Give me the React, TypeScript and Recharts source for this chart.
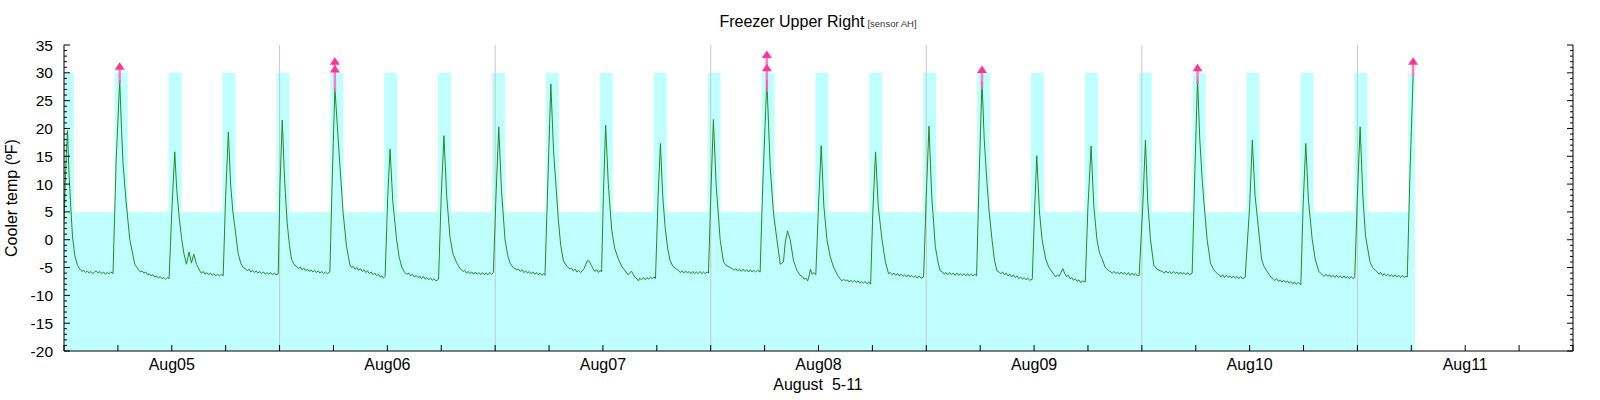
import { ComposedChart, Line, XAxis, YAxis, ReferenceArea, ReferenceLine, Scatter } from "recharts";

// hours counted from Aug05 00:00, temperature in ºF
const aug04 = [
    [-12, 3.5], [-11.75, 15], [-11.6, 19.6], [-11.45, 12], [-11.25, 6], [-11.05, 0.5], [-10.8, -2.8], [-10.5, -4.6],
    [-10.2, -5.4], [-10.0, -5.7], [-9.8, -5.5], [-9.6, -5.9], [-9.4, -5.6], [-9.2, -6.0], [-9.0, -5.7], [-8.8, -6.1],
    [-8.6, -5.8], [-8.4, -5.6], [-8.2, -6.0], [-8.0, -5.7], [-7.8, -6.1], [-7.6, -5.8], [-7.4, -6.2], [-7.2, -5.9],
    [-7.0, -6.1], [-6.8, -5.8], [-6.54, -6.1],
    [-6.2, 14], [-5.8, 28.7], [-5.6, 20], [-5.43, 13.7], [-5.1, 7.1], [-4.68, 0.1], [-4.12, -4.4],
    [-3.7, -5.4], [-3.5, -5.8], [-3.3, -5.6], [-3.1, -6.0], [-2.9, -5.8], [-2.7, -6.3], [-2.5, -6.1], [-2.3, -6.5],
    [-2.1, -6.3], [-1.9, -6.7], [-1.7, -6.5], [-1.5, -6.9], [-1.3, -6.6], [-1.1, -7.0], [-0.9, -6.8], [-0.7, -7.1],
    [-0.5, -6.8], [-0.3, -7.0],
];
const aug05 = [
    [0.0, 5], [0.33, 15.8], [0.55, 9], [0.82, 4.1], [1.08, 0.4], [1.35, -2.5], [1.63, -4.4], [1.93, -2.2],
    [2.19, -4.2], [2.45, -2.6], [2.75, -4.4], [3.12, -5.6],
    [3.3, -6.0], [3.5, -5.7], [3.7, -6.2], [3.9, -5.9], [4.1, -6.3], [4.3, -6.0], [4.5, -6.4], [4.7, -6.1],
    [4.9, -6.5], [5.1, -6.2], [5.3, -6.5], [5.5, -6.2], [5.72, -6.5],
    [6.0, 8], [6.3, 19.4], [6.55, 10], [6.8, 5], [7.02, 2.35], [7.39, -2.5], [7.7, -4.3], [7.95, -5.0],
    [8.2, -5.2], [8.4, -5.6], [8.6, -5.3], [8.8, -5.8], [9.0, -5.5], [9.2, -5.9], [9.4, -5.6], [9.6, -6.0],
    [9.8, -5.7], [10.0, -6.1], [10.2, -5.8], [10.4, -6.2], [10.6, -5.9], [10.8, -6.2], [11.0, -5.9], [11.2, -6.3],
    [11.4, -6.0], [11.6, -6.3], [11.85, -6.1],
    [12.05, 10], [12.3, 21.5], [12.55, 11], [12.85, 2.95], [13.1, -1.0], [13.33, -3.5], [13.6, -4.4], [13.9, -4.8],
    [14.1, -5.2], [14.3, -4.9], [14.5, -5.4], [14.7, -5.1], [14.9, -5.6], [15.1, -5.3], [15.3, -5.7], [15.5, -5.4],
    [15.7, -5.8], [15.9, -5.5], [16.1, -5.9], [16.3, -5.6], [16.5, -6.0], [16.7, -5.7], [16.9, -6.1], [17.1, -5.8],
    [17.3, -6.1], [17.6, -5.8],
    [17.85, 10], [18.16, 27.3], [18.53, 17.9], [19.08, 4.7], [19.46, -1.25], [19.83, -4.5],
    [20.0, -5.0], [20.2, -4.8], [20.4, -5.3], [20.6, -5.0], [20.8, -5.5], [21.0, -5.2], [21.2, -5.7], [21.4, -5.4],
    [21.6, -5.9], [21.8, -5.6], [22.0, -6.1], [22.2, -5.8], [22.4, -6.3], [22.6, -6.0], [22.8, -6.5], [23.0, -6.2],
    [23.2, -6.7], [23.4, -6.5], [23.55, -6.9], [23.75, -6.6],
];
const aug06 = [
    [24.05, 8], [24.3, 16.3], [24.6, 7], [25.03, 0], [25.3, -3.0], [25.6, -4.9], [25.9, -5.8], [26.15, -6.2],
    [26.4, -6.0], [26.6, -6.5], [26.8, -6.2], [27.0, -6.7], [27.2, -6.4], [27.4, -6.8], [27.6, -6.5], [27.8, -7.0],
    [28.0, -6.6], [28.2, -7.1], [28.4, -6.8], [28.6, -7.2], [28.8, -6.9], [29.0, -7.3], [29.2, -7.0], [29.4, -7.4],
    [29.7, -7.1],
    [30.0, 8], [30.3, 18.7], [30.6, 8], [30.97, 0.5], [31.3, -2.5], [31.7, -4.1], [32.1, -5.2], [32.45, -5.7],
    [32.6, -5.5], [32.8, -6.0], [33.0, -5.7], [33.2, -6.1], [33.4, -5.8], [33.6, -6.2], [33.8, -5.8], [34.0, -6.2],
    [34.2, -5.9], [34.4, -6.3], [34.6, -5.9], [34.8, -6.3], [35.0, -6.0], [35.2, -6.3], [35.4, -5.9], [35.6, -6.2],
    [35.8, -5.9],
    [36.1, 8], [36.4, 20.3], [36.7, 9], [37.1, 0], [37.4, -2.8], [37.66, -4.2], [38.0, -5.0], [38.4, -5.4],
    [38.6, -5.3], [38.8, -5.7], [39.0, -5.4], [39.2, -5.9], [39.4, -5.6], [39.6, -6.0], [39.8, -5.7], [40.0, -6.1],
    [40.2, -5.8], [40.4, -6.2], [40.6, -5.9], [40.8, -6.3], [41.0, -6.0], [41.2, -6.4], [41.4, -6.1], [41.55, -6.4],
    [41.9, 12], [42.2, 28.0], [42.5, 16], [43.04, 3.5], [43.3, -1.0], [43.6, -3.8], [44.0, -4.8], [44.34, -5.3],
    [44.5, -5.1], [44.7, -5.6], [44.9, -5.3], [45.1, -5.8], [45.3, -5.5], [45.5, -5.9], [45.7, -5.6], [45.9, -5.2],
    [46.1, -4.4], [46.3, -3.7], [46.5, -3.9], [46.7, -4.6], [46.9, -5.2], [47.1, -5.7], [47.3, -5.4], [47.5, -5.9],
    [47.7, -5.5], [47.85, -5.8],
];
const aug07 = [
    [48.05, 8], [48.3, 20.6], [48.6, 10], [48.98, 1.75], [49.3, -1.5], [49.73, -3.5], [50.1, -4.8], [50.47, -5.6],
    [50.8, -6.3], [51.0, -5.9], [51.2, -5.7], [51.4, -6.3], [51.6, -6.8], [51.8, -7.0], [51.95, -7.4],
    [52.1, -6.9], [52.3, -7.2], [52.5, -6.8], [52.7, -7.2], [52.9, -6.8], [53.1, -7.1], [53.3, -6.7], [53.5, -7.0],
    [53.7, -6.7], [53.85, -7.0],
    [54.15, 8], [54.4, 17.3], [54.65, 8], [54.92, 2.35], [55.2, -1.5], [55.48, -3.8], [55.8, -4.8], [56.2, -5.3],
    [56.4, -5.5], [56.6, -5.9], [56.8, -5.6], [57.0, -6.0], [57.2, -5.6], [57.4, -6.0], [57.6, -5.7], [57.8, -6.1],
    [58.0, -5.7], [58.2, -6.1], [58.4, -5.8], [58.6, -6.1], [58.8, -5.7], [59.0, -6.1], [59.2, -5.8], [59.4, -6.1],
    [59.6, -5.8], [59.75, -6.0],
    [60.05, 10], [60.3, 21.6], [60.6, 10], [61.05, 0], [61.42, -4.0], [61.8, -4.7], [62.17, -5.0],
    [62.4, -5.2], [62.6, -5.5], [62.8, -5.2], [63.0, -5.6], [63.2, -5.3], [63.4, -5.7], [63.6, -5.3], [63.8, -5.7],
    [64.0, -5.4], [64.2, -5.8], [64.4, -5.4], [64.6, -5.8], [64.8, -5.5], [65.0, -5.8], [65.2, -5.5], [65.5, -5.8],
    [65.8, 10], [66.25, 28.7], [66.62, 13.1], [66.99, 4.8], [67.37, 0], [67.74, -4.4], [68.1, -4.0], [68.29, -0.6],
    [68.55, 1.6], [68.85, 0], [69.22, -3.8], [69.6, -5.5], [69.96, -6.4], [70.2, -6.6], [70.4, -7.1], [70.6, -6.9],
    [70.8, -7.4], [71.0, -6.2], [71.1, -5.3], [71.3, -6.2], [71.5, -5.9], [71.7, -6.3],
];
const aug08 = [
    [72.0, 6], [72.3, 16.9], [72.6, 6], [72.94, 0], [73.3, -3.0], [73.67, -4.9], [74.1, -6.3], [74.4, -7.0],
    [74.6, -7.4], [74.8, -7.1], [75.0, -7.4], [75.2, -7.2], [75.4, -7.6], [75.6, -7.3], [75.8, -7.6], [76.0, -7.3],
    [76.2, -7.7], [76.4, -7.4], [76.6, -7.8], [76.8, -7.5], [77.0, -7.8], [77.2, -7.5], [77.4, -7.9], [77.6, -7.6],
    [77.8, -8.0],
    [78.05, 5], [78.35, 15.8], [78.65, 6], [79.07, 0], [79.45, -4.0], [79.8, -6.1],
    [80.0, -5.9], [80.2, -6.3], [80.4, -6.0], [80.6, -6.4], [80.8, -6.1], [81.0, -6.5], [81.2, -6.2], [81.4, -6.6],
    [81.6, -6.3], [81.8, -6.7], [82.0, -6.3], [82.2, -6.7], [82.4, -6.4], [82.6, -6.8], [82.8, -6.5], [83.0, -6.9],
    [83.2, -6.5], [83.4, -6.9], [83.7, -6.7],
    [84.0, 8], [84.3, 20.4], [84.6, 8], [85.0, -1.2], [85.3, -4.0], [85.56, -5.6],
    [85.8, -5.8], [86.0, -6.2], [86.2, -5.9], [86.4, -6.3], [86.6, -5.9], [86.8, -6.3], [87.0, -6.0], [87.2, -6.4],
    [87.4, -6.0], [87.6, -6.4], [87.8, -6.1], [88.0, -6.4], [88.2, -6.1], [88.4, -6.5], [88.6, -6.1], [88.8, -6.5],
    [89.0, -6.2], [89.2, -6.5], [89.4, -6.2], [89.6, -6.5],
    [89.9, 12], [90.2, 28.5], [90.45, 18], [90.76, 10.1], [91.0, 5], [91.32, 0], [91.6, -3.8], [91.88, -5.6],
    [92.1, -5.8], [92.3, -6.1], [92.5, -5.8], [92.7, -6.3], [92.9, -6.0], [93.1, -6.5], [93.3, -6.2], [93.5, -6.7],
    [93.7, -6.3], [93.9, -6.8], [94.1, -6.5], [94.3, -7.0], [94.5, -6.7], [94.7, -7.1], [94.9, -6.8], [95.1, -7.2],
    [95.3, -6.9], [95.5, -7.3], [95.8, -7.1],
];
const aug09 = [
    [96.05, 5], [96.3, 15.1], [96.6, 5], [96.89, 0], [97.3, -3.5], [97.63, -4.9], [98.0, -5.8], [98.2, -6.2],
    [98.4, -6.7], [98.6, -6.3], [98.8, -6.6], [99.0, -5.9], [99.2, -5.2], [99.4, -6.0], [99.6, -6.6], [99.8, -6.4],
    [100.0, -7.0], [100.2, -6.8], [100.4, -7.3], [100.6, -7.0], [100.8, -7.5], [101.0, -7.2], [101.2, -7.7],
    [101.4, -7.4], [101.7, -7.6],
    [102.0, 6], [102.35, 16.85], [102.65, 6], [103.0, 0], [103.3, -2.5], [103.57, -3.4], [103.9, -4.9], [104.3, -5.6],
    [104.5, -5.7], [104.7, -6.0], [104.9, -5.7], [105.1, -6.1], [105.3, -5.8], [105.5, -6.2], [105.7, -5.8],
    [105.9, -6.2], [106.1, -5.9], [106.3, -6.3], [106.5, -5.9], [106.7, -6.4], [106.9, -6.0], [107.1, -6.4],
    [107.3, -6.1], [107.5, -6.5], [107.7, -6.4],
    [108.1, 6], [108.4, 17.9], [108.65, 7], [108.96, 0], [109.33, -4.6], [109.7, -5.3], [110.07, -5.6],
    [110.3, -5.7], [110.5, -6.0], [110.7, -5.6], [110.9, -6.0], [111.1, -5.7], [111.3, -6.1], [111.5, -5.7],
    [111.7, -6.1], [111.9, -5.8], [112.1, -6.2], [112.3, -5.8], [112.5, -6.2], [112.7, -5.9], [112.9, -6.3],
    [113.1, -5.9], [113.3, -6.3], [113.6, -6.0],
    [113.9, 12], [114.2, 29.0], [114.45, 18], [114.72, 10.7], [115.0, 5], [115.27, 0], [115.64, -4.2], [116.0, -5.4],
    [116.4, -6.1], [116.6, -6.3], [116.8, -6.7], [117.0, -6.3], [117.2, -6.8], [117.4, -6.4], [117.6, -6.8],
    [117.8, -6.5], [118.0, -6.9], [118.2, -6.5], [118.4, -6.9], [118.6, -6.6], [118.8, -7.0], [119.0, -6.6],
    [119.2, -7.0], [119.5, -6.8],
];
const aug10 = [
    [120.0, 6], [120.3, 17.9], [120.6, 8], [120.96, 2.35], [121.33, -3.5], [121.6, -4.8], [121.9, -5.6],
    [122.2, -6.3], [122.4, -6.8], [122.6, -7.0], [122.8, -7.3], [123.0, -7.0], [123.2, -7.5], [123.4, -7.2],
    [123.6, -7.6], [123.8, -7.3], [124.0, -7.7], [124.2, -7.4], [124.4, -7.8], [124.6, -7.5], [124.8, -7.9],
    [125.0, -7.6], [125.2, -8.0], [125.4, -7.7], [125.7, -8.1],
    [125.95, 6], [126.25, 17.3], [126.55, 7], [126.97, 0], [127.3, -3.5], [127.7, -5.7], [127.9, -6.0],
    [128.1, -6.3], [128.3, -6.6], [128.5, -6.2], [128.7, -6.6], [128.9, -6.3], [129.1, -6.7], [129.3, -6.4],
    [129.5, -6.8], [129.7, -6.4], [129.9, -6.8], [130.1, -6.5], [130.3, -6.9], [130.5, -6.5], [130.7, -6.9],
    [130.9, -6.6], [131.1, -7.0], [131.3, -6.6], [131.5, -7.0], [131.7, -6.8],
    [132.0, 8], [132.3, 20.3], [132.6, 8], [132.9, 0.7], [133.4, -4.0], [133.7, -5.0], [134.0, -5.5],
    [134.2, -5.8], [134.4, -6.2], [134.6, -5.9], [134.8, -6.4], [135.0, -6.1], [135.2, -6.5], [135.4, -6.2],
    [135.6, -6.6], [135.8, -6.3], [136.0, -6.7], [136.2, -6.3], [136.4, -6.7], [136.6, -6.4], [136.8, -6.8],
    [137.0, -6.4], [137.2, -6.8], [137.4, -6.5], [137.55, -6.7],
    [137.85, 12], [138.2, 29.5],
];

// alarm readings: [hour, line starts at, arrow heads]
const alarms: [number, number, number[]][] = [
    [-5.8, 28.0, [31.1]],
    [18.16, 26.6, [30.6, 32.0]],
    [66.25, 26.6, [30.8, 33.2]],
    [90.2, 27.1, [30.5]],
    [114.2, 28.0, [30.8]],
    [138.2, 29.3, [32.0]],
];

// allowed range: -20..5 normally, up to 30 during the defrost windows
const coolStart = -12;
const coolEnd = 138.4;
const coolLow = -20;
const coolHigh = 5;
const defrostHigh = 30;
const defrostStarts = [
    -12, -6.35, -0.35, 5.65, 11.65, 17.65, 23.65, 29.65, 35.65, 41.65, 47.65, 53.65, 59.65,
    65.65, 71.65, 77.65, 83.65, 89.65, 95.65, 101.65, 107.65, 113.65, 119.65, 125.65, 131.65, 137.65,
];
const defrostEnds = [
    -10.9, -4.9, 1.1, 7.1, 13.1, 19.1, 25.1, 31.1, 37.1, 43.1, 49.1, 55.1, 61.1,
    67.1, 73.1, 79.1, 85.1, 91.1, 97.1, 103.1, 109.1, 115.1, 121.1, 127.1, 133.1, 138.4,
];

const noonLines = [12, 36, 60, 84, 108, 132];
const dayLabels = ["Aug05", "Aug06", "Aug07", "Aug08", "Aug09", "Aug10", "Aug11"];
const xTicks = [-12, -6, 0, 6, 12, 18, 24, 30, 36, 42, 48, 54, 60, 66, 72, 78, 84, 90, 96, 102, 108, 114, 120, 126, 132, 138, 144, 150, 156];
const yTicks = [
    -20, -19, -18, -17, -16, -15, -14, -13, -12, -11, -10, -9, -8, -7, -6, -5, -4, -3, -2, -1,
    0, 1, 2, 3, 4, 5, 6, 7, 8, 9, 10, 11, 12, 13, 14, 15, 16, 17, 18, 19, 20, 21, 22, 23, 24, 25,
    26, 27, 28, 29, 30, 31, 32, 33, 34, 35,
];

const temps = [...aug04, ...aug05, ...aug06, ...aug07, ...aug08, ...aug09, ...aug10].map(([t, v]) => ({ t, v }));
const arrowHeads = alarms.flatMap(([t, , heads]) => heads.map((v) => ({ t, v })));

const FONT = "'Liberation Sans', Arial, Helvetica, sans-serif";

const BottomTick = ({ x, y, payload }: any) => {
    const v = payload.value;
    const label = v % 24 === 0 ? dayLabels[v / 24] : null;
    return (
        <g>
            <line x1={x} x2={x} y1={y} y2={y - 6} stroke="#000" />
            {label && (
                <text x={x} y={y + 19} textAnchor="middle" fontSize={16} fontFamily={FONT} fill="#000">
                    {label}
                </text>
            )}
        </g>
    );
};

const TopTick = ({ x, y }: any) => <line x1={x} x2={x} y1={y} y2={y + 6} stroke="#000" />;

const LeftTick = ({ x, y, payload }: any) => {
    const v = payload.value;
    const major = v % 5 === 0;
    return (
        <g>
            <line x1={x} x2={x + (major ? 6 : 3)} y1={y} y2={y} stroke="#000" />
            {major && (
                <text x={x - 11} y={y} dy={5.5} textAnchor="end" fontSize={15.5} fontFamily={FONT} fill="#000">
                    {v}
                </text>
            )}
        </g>
    );
};

const RightTick = ({ x, y, payload }: any) => {
    const major = payload.value % 5 === 0;
    return <line x1={x} x2={x - (major ? 6 : 3)} y1={y} y2={y} stroke="#000" />;
};

const ArrowHead = ({ cx, cy }: any) => (
    <path d={`M${cx},${cy - 4.5} L${cx + 5},${cy + 3} L${cx - 5},${cy + 3} Z`} fill="#ff3399" />
);

export default function App() {
    return (
        <div style={{ position: "absolute", left: 0, top: 0, width: 1600, height: 400, background: "#fff" }}>
            <ComposedChart width={1600} height={400} data={temps} margin={{ top: 45, right: 0, bottom: 0, left: 0 }}>
                <XAxis
                    dataKey="t"
                    type="number"
                    domain={[-12, 156]}
                    ticks={xTicks}
                    interval={0}
                    allowDataOverflow
                    height={49}
                    tickSize={0}
                    tickMargin={0}
                    tickLine={false}
                    tick={BottomTick}
                    axisLine={{ stroke: "#000" }}
                />
                <XAxis
                    xAxisId="top"
                    orientation="top"
                    dataKey="t"
                    type="number"
                    domain={[-12, 156]}
                    ticks={xTicks}
                    interval={0}
                    allowDataOverflow
                    height={0}
                    tickSize={0}
                    tickMargin={0}
                    tickLine={false}
                    tick={TopTick}
                    axisLine={{ stroke: "#000" }}
                />
                <YAxis
                    type="number"
                    domain={[-20, 35]}
                    ticks={yTicks}
                    interval={0}
                    allowDataOverflow
                    width={64}
                    tickSize={0}
                    tickMargin={0}
                    tickLine={false}
                    tick={LeftTick}
                    axisLine={{ stroke: "#000" }}
                />
                <YAxis
                    yAxisId="right"
                    orientation="right"
                    type="number"
                    domain={[-20, 35]}
                    ticks={yTicks}
                    interval={0}
                    allowDataOverflow
                    width={27}
                    tickSize={0}
                    tickMargin={0}
                    tickLine={false}
                    tick={RightTick}
                    axisLine={{ stroke: "#000" }}
                />

                <ReferenceArea x1={coolStart} x2={coolEnd} y1={coolLow} y2={coolHigh} fill="#c0ffff" fillOpacity={1} stroke="none" />
                {defrostStarts.map((s, i) => (
                    <ReferenceArea key={"d" + i} x1={s} x2={defrostEnds[i]} y1={coolHigh} y2={defrostHigh} fill="#c0ffff" fillOpacity={1} stroke="none" />
                ))}
                {noonLines.map((t) => (
                    <ReferenceLine key={"n" + t} x={t} stroke="#c8c8c8" strokeWidth={1} />
                ))}

                <Line dataKey="v" type="linear" stroke="#228b22" strokeWidth={1} dot={false} isAnimationActive={false} />

                {alarms.map(([t, lo, heads], i) => (
                    <Line
                        key={"a" + i}
                        data={[{ t, v: lo }, { t, v: Math.max(...heads) }]}
                        dataKey="v"
                        type="linear"
                        stroke="#ff66b3"
                        strokeOpacity={0.85}
                        strokeWidth={2.5}
                        dot={false}
                        isAnimationActive={false}
                    />
                ))}
                <Scatter data={arrowHeads} dataKey="v" shape={ArrowHead} isAnimationActive={false} />
            </ComposedChart>

            <svg width={1600} height={400} style={{ position: "absolute", left: 0, top: 0, pointerEvents: "none" }}>
                <text x={818} y={27} textAnchor="middle" fontFamily={FONT} fill="#000">
                    <tspan fontSize={16}>Freezer Upper Right</tspan>
                    <tspan fontSize={9.5} fill="#333" dx={3}>[sensor AH]</tspan>
                </text>
                <text x={818} y={390} textAnchor="middle" fontSize={16} fontFamily={FONT} fill="#000">
                    {"August \u00a05-11"}
                </text>
                <text x={17} y={198} transform="rotate(-90, 17, 198)" textAnchor="middle" fontSize={16} fontFamily={FONT} fill="#000">
                    Cooler temp (ºF)
                </text>
            </svg>
        </div>
    );
}
